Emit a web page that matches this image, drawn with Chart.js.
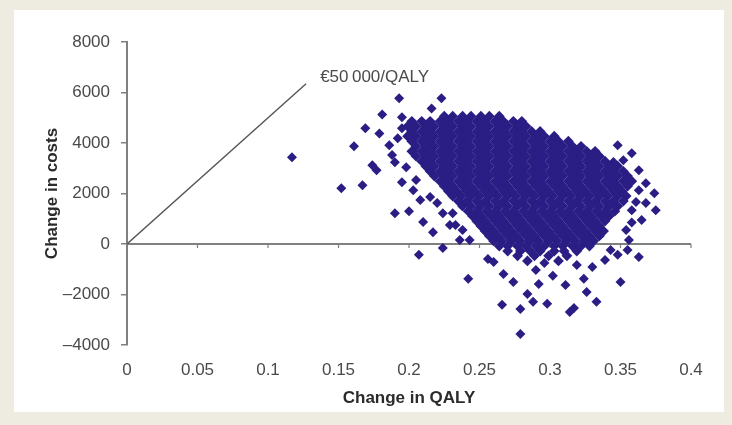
<!DOCTYPE html>
<html>
<head>
<meta charset="utf-8">
<script src="https://cdn.jsdelivr.net/npm/chart.js@4.4.1/dist/chart.umd.min.js"></script>
<style>
  html, body { margin: 0; padding: 0; background: #eeebe1; }
  body { width: 732px; height: 425px; position: relative; overflow: hidden; }
  .panel { position: absolute; left: 14px; top: 10px; width: 710px; height: 402px; background: #fff; }
</style>
</head>
<body>
<div class="panel"><canvas id="ceplane" width="710" height="402"></canvas></div>
<script>
// ── Ticks ──
const qalyTicks = [0, 0.05, 0.1, 0.15, 0.2, 0.25, 0.3, 0.35, 0.4];
const costTicks = [-4000, -2000, 0, 2000, 4000, 6000, 8000];

// ── Willingness-to-pay line ──
const thresholdLine = [[0, 0], [0.127, 6350]];
const thresholdText = '€50\u2009000/QALY';

// ── Bootstrap cloud: dense core, read row by row (cost level, QALY values) ──
const coreRows = [
  [5060, [0.225, 0.231, 0.238, 0.244, 0.251, 0.257, 0.264]],
  [4860, [0.202, 0.209, 0.215, 0.222, 0.228, 0.235, 0.241, 0.248, 0.254, 0.261, 0.267, 0.274, 0.280]],
  [4660, [0.199, 0.205, 0.212, 0.218, 0.225, 0.231, 0.238, 0.244, 0.251, 0.257, 0.264, 0.270, 0.277, 0.283]],
  [4460, [0.202, 0.209, 0.215, 0.222, 0.228, 0.235, 0.241, 0.248, 0.254, 0.261, 0.267, 0.274, 0.280, 0.287, 0.293]],
  [4270, [0.199, 0.205, 0.212, 0.218, 0.225, 0.231, 0.238, 0.244, 0.251, 0.257, 0.264, 0.270, 0.277, 0.283, 0.290, 0.296, 0.303]],
  [4070, [0.202, 0.209, 0.215, 0.222, 0.228, 0.235, 0.241, 0.248, 0.254, 0.261, 0.267, 0.274, 0.280, 0.287, 0.293, 0.300, 0.306, 0.313]],
  [3870, [0.205, 0.212, 0.218, 0.225, 0.231, 0.238, 0.244, 0.251, 0.257, 0.264, 0.270, 0.277, 0.283, 0.290, 0.296, 0.303, 0.309, 0.316, 0.322]],
  [3670, [0.202, 0.209, 0.215, 0.222, 0.228, 0.235, 0.241, 0.248, 0.254, 0.261, 0.267, 0.274, 0.280, 0.287, 0.293, 0.300, 0.306, 0.313, 0.319, 0.326, 0.332]],
  [3480, [0.205, 0.212, 0.218, 0.225, 0.231, 0.238, 0.244, 0.251, 0.257, 0.264, 0.270, 0.277, 0.283, 0.290, 0.296, 0.303, 0.309, 0.316, 0.322, 0.329, 0.335]],
  [3280, [0.209, 0.215, 0.222, 0.228, 0.235, 0.241, 0.248, 0.254, 0.261, 0.267, 0.274, 0.280, 0.287, 0.293, 0.300, 0.306, 0.313, 0.319, 0.326, 0.332, 0.339]],
  [3080, [0.212, 0.218, 0.225, 0.231, 0.238, 0.244, 0.251, 0.257, 0.264, 0.270, 0.277, 0.283, 0.290, 0.296, 0.303, 0.309, 0.316, 0.322, 0.329, 0.335, 0.342, 0.348]],
  [2880, [0.215, 0.222, 0.228, 0.235, 0.241, 0.248, 0.254, 0.261, 0.267, 0.274, 0.280, 0.287, 0.293, 0.300, 0.306, 0.313, 0.319, 0.326, 0.332, 0.339, 0.345, 0.352]],
  [2690, [0.218, 0.225, 0.231, 0.238, 0.244, 0.251, 0.257, 0.264, 0.270, 0.277, 0.283, 0.290, 0.296, 0.303, 0.309, 0.316, 0.322, 0.329, 0.335, 0.342, 0.348, 0.355]],
  [2490, [0.222, 0.228, 0.235, 0.241, 0.248, 0.254, 0.261, 0.267, 0.274, 0.280, 0.287, 0.293, 0.300, 0.306, 0.313, 0.319, 0.326, 0.332, 0.339, 0.345, 0.352, 0.358]],
  [2290, [0.225, 0.231, 0.238, 0.244, 0.251, 0.257, 0.264, 0.270, 0.277, 0.283, 0.290, 0.296, 0.303, 0.309, 0.316, 0.322, 0.329, 0.335, 0.342, 0.348, 0.355]],
  [2090, [0.228, 0.234, 0.241, 0.247, 0.254, 0.260, 0.267, 0.273, 0.280, 0.286, 0.293, 0.299, 0.306, 0.312, 0.319, 0.325, 0.332, 0.338, 0.345, 0.351]],
  [1900, [0.231, 0.237, 0.244, 0.250, 0.257, 0.263, 0.270, 0.276, 0.283, 0.289, 0.296, 0.302, 0.309, 0.315, 0.322, 0.328, 0.335, 0.341, 0.348, 0.354]],
  [1700, [0.235, 0.241, 0.248, 0.254, 0.261, 0.267, 0.274, 0.280, 0.287, 0.293, 0.300, 0.306, 0.313, 0.319, 0.326, 0.332, 0.339, 0.345, 0.352]],
  [1500, [0.238, 0.244, 0.251, 0.257, 0.264, 0.270, 0.277, 0.283, 0.290, 0.296, 0.303, 0.309, 0.316, 0.322, 0.329, 0.335, 0.342, 0.348]],
  [1300, [0.242, 0.248, 0.255, 0.261, 0.268, 0.274, 0.281, 0.287, 0.294, 0.300, 0.307, 0.313, 0.320, 0.326, 0.333, 0.339, 0.346]],
  [1110, [0.245, 0.251, 0.258, 0.264, 0.271, 0.277, 0.284, 0.290, 0.297, 0.303, 0.310, 0.316, 0.323, 0.329, 0.336, 0.342]],
  [910,  [0.248, 0.254, 0.261, 0.267, 0.274, 0.280, 0.287, 0.293, 0.300, 0.306, 0.313, 0.319, 0.326, 0.332, 0.339]],
  [710,  [0.251, 0.257, 0.264, 0.270, 0.277, 0.283, 0.290, 0.296, 0.303, 0.309, 0.316, 0.322, 0.329, 0.335]],
  [510,  [0.254, 0.260, 0.267, 0.273, 0.280, 0.286, 0.293, 0.299, 0.306, 0.312, 0.319, 0.325, 0.332, 0.338]],
  [320,  [0.257, 0.263, 0.270, 0.276, 0.283, 0.289, 0.296, 0.302, 0.309, 0.315, 0.322, 0.328, 0.335]],
  [120,  [0.260, 0.266, 0.273, 0.279, 0.286, 0.292, 0.299, 0.305, 0.312, 0.318, 0.325, 0.331]],
  [-80,  [0.264, 0.270, 0.277, 0.283, 0.290, 0.296, 0.303, 0.309, 0.316, 0.322, 0.328]],
  [-280, [0.270, 0.279, 0.286, 0.293, 0.303, 0.310, 0.319]],
  [-470, [0.277, 0.289, 0.299, 0.312]],
  [-670, [0.284, 0.306]]
];

// loose points outside the core, [QALY, cost]
const upperTail = [
  [0.193, 5770], [0.223, 5770], [0.216, 5370], [0.181, 5130], [0.195, 5020],
  [0.179, 4380], [0.169, 4580], [0.195, 4580], [0.192, 4190], [0.186, 3910],
  [0.161, 3870], [0.188, 3520], [0.190, 3240], [0.174, 3120], [0.198, 3040],
  [0.177, 2920], [0.152, 2210], [0.167, 2330], [0.195, 2450], [0.205, 2530],
  [0.203, 2130], [0.208, 1740], [0.215, 1860], [0.220, 1620], [0.190, 1220],
  [0.200, 1300], [0.224, 1220], [0.231, 1220], [0.210, 870], [0.229, 750],
  [0.233, 750], [0.217, 470], [0.238, 550], [0.236, 160], [0.243, 160],
  [0.224, -160], [0.207, -430]
];
const lowerTail = [
  [0.256, -590], [0.260, -710], [0.267, -1190], [0.274, -1500], [0.242, -1380],
  [0.266, -2410], [0.279, -2570], [0.284, -1980], [0.288, -2290], [0.279, -3560],
  [0.290, -1030], [0.292, -1580], [0.296, -750], [0.298, -2370], [0.302, -1260],
  [0.311, -1620], [0.314, -2690], [0.317, -2530], [0.319, -830], [0.324, -1380],
  [0.326, -1900], [0.330, -910], [0.333, -2290], [0.339, -630], [0.343, -240],
  [0.348, -430], [0.350, -1500], [0.355, -240], [0.363, -510]
];
const rightFringe = [
  [0.348, 3910], [0.358, 3590], [0.352, 3320], [0.345, 3250], [0.363, 2920],
  [0.368, 2410], [0.363, 2130], [0.374, 2010], [0.361, 1660], [0.368, 1620],
  [0.358, 1340], [0.375, 1340], [0.365, 950], [0.358, 850], [0.354, 550],
  [0.356, 160]
];
const isolated = [[0.117, 3440]];

const toXY = ([x, y]) => ({ x, y });
const core = coreRows.flatMap(([cost, qalys]) => qalys.map(q => ({ x: q, y: cost })));
const loose = [].concat(upperTail, lowerTail, rightFringe, isolated).map(toXY);

const FONT = '"Liberation Sans", Arial, sans-serif';
const AXIS_GREY = '#808080';
const MARK = '#2a1d84';

// x axis crosses at cost = 0, plus the threshold label
const zeroAxis = {
    id: 'zeroAxis',
    beforeDatasetsDraw(chart) {
        const { ctx, scales: { x, y } } = chart;
        const y0 = y.getPixelForValue(0);
        ctx.save();
        ctx.strokeStyle = AXIS_GREY;
        ctx.lineWidth = 2;
        ctx.beginPath();
        ctx.moveTo(x.getPixelForValue(qalyTicks[0]), y0);
        ctx.lineTo(x.getPixelForValue(qalyTicks[qalyTicks.length - 1]), y0);
        ctx.stroke();
        ctx.lineWidth = 1.2;
        qalyTicks.forEach(v => {
            const px = x.getPixelForValue(v);
            ctx.beginPath();
            ctx.moveTo(px, y0);
            ctx.lineTo(px, y0 + 4);
            ctx.stroke();
        });
        ctx.restore();
    },
    afterDatasetsDraw(chart) {
        const { ctx, scales: { x, y } } = chart;
        ctx.save();
        ctx.fillStyle = '#4a4a4a';
        ctx.font = '17px ' + FONT;
        ctx.textAlign = 'left';
        ctx.textBaseline = 'middle';
        ctx.fillText(thresholdText, x.getPixelForValue(0.137), y.getPixelForValue(6600));
        ctx.restore();
    }
};

new Chart(document.getElementById('ceplane'), {
    type: 'scatter',
    data: {
        datasets: [
            {
                label: 'Core',
                data: core,
                pointStyle: 'rectRot',
                pointRadius: 5.4,
                borderWidth: 0,
                backgroundColor: MARK,
                borderColor: MARK
            },
            {
                label: 'Tails',
                data: loose,
                pointStyle: 'rectRot',
                pointRadius: 5,
                borderWidth: 0,
                backgroundColor: MARK,
                borderColor: MARK
            },
            {
                type: 'line',
                label: 'Threshold',
                data: thresholdLine.map(toXY),
                borderColor: '#555555',
                borderWidth: 1.4,
                pointRadius: 0,
                fill: false
            }
        ]
    },
    options: {
        responsive: false,
        animation: false,
        layout: { padding: { top: 32, right: 33, left: 0, bottom: 0 } },
        plugins: { legend: { display: false }, tooltip: { enabled: false } },
        scales: {
            x: {
                type: 'linear',
                min: 0,
                max: 0.4,
                afterFit: s => { s.height = 67; },
                afterBuildTicks: s => { s.ticks = qalyTicks.map(v => ({ value: v })); },
                grid: { display: false, drawTicks: false },
                border: { display: false },
                ticks: {
                    padding: 15,
                    color: '#4a4a4a',
                    font: { family: FONT, size: 17 },
                    maxRotation: 0,
                    callback: v => String(v)
                },
                title: {
                    display: true,
                    text: 'Change in QALY',
                    color: '#2b2b2b',
                    font: { family: FONT, size: 17, weight: 'bold' },
                    padding: { top: 0, bottom: 3 }
                }
            },
            y: {
                type: 'linear',
                min: -4000,
                max: 8000,
                afterFit: s => { s.width = 113; },
                afterBuildTicks: s => { s.ticks = costTicks.map(v => ({ value: v })); },
                grid: { drawOnChartArea: false, drawTicks: true, tickLength: 6, color: AXIS_GREY, lineWidth: 1.5 },
                border: { display: true, color: AXIS_GREY, width: 2 },
                ticks: {
                    padding: 11,
                    color: '#4a4a4a',
                    font: { family: FONT, size: 17 },
                    callback: v => v < 0 ? '\u2013' + Math.abs(v) : String(v)
                },
                title: {
                    display: true,
                    text: 'Change in costs',
                    color: '#2b2b2b',
                    font: { family: FONT, size: 17, weight: 'bold' },
                    padding: { top: 28, bottom: 0 }
                }
            }
        }
    },
    plugins: [zeroAxis]
});
</script>
</body>
</html>
